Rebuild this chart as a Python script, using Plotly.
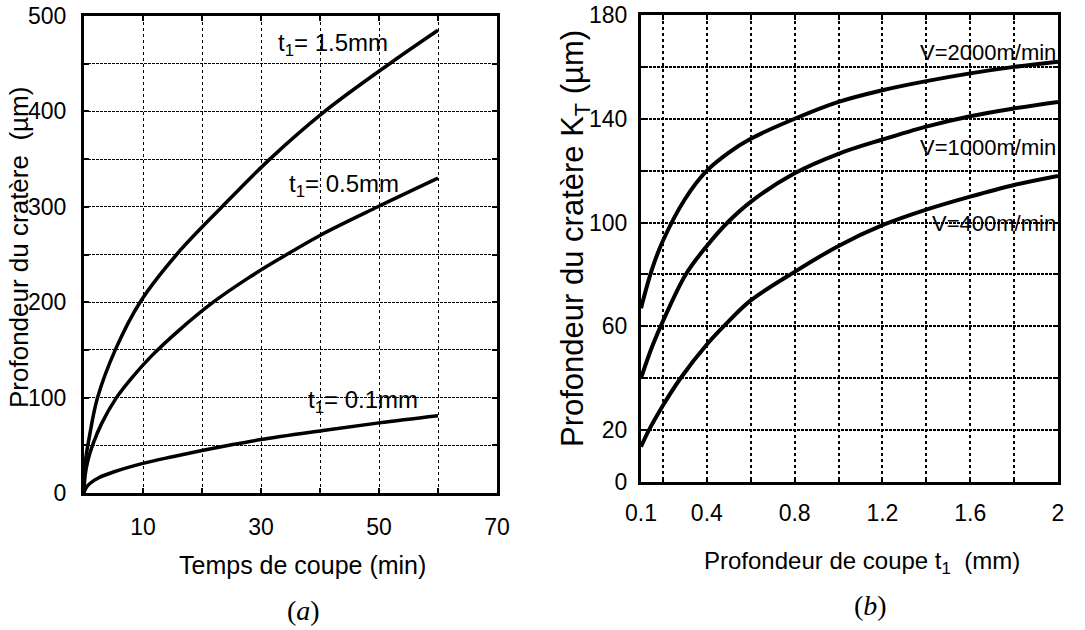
import plotly.graph_objects as go

# ---------------- data: panel (a) ----------------
t_15 = [0, 0.2, 1, 2.3, 5.3, 9.5, 15.7, 23.4, 31.5, 40.8, 51.8, 60]
k_15 = [0, 31, 62, 100, 150, 200, 250, 300, 350, 400, 450, 485]

t_05 = [0, 0.2, 0.7, 1.5, 3, 5.5, 8, 11.5, 16, 21.9, 28, 33, 40, 49.8, 60]
k_05 = [0, 19, 35, 51, 73, 100, 120, 144, 170, 200, 226, 245, 270, 300, 330]

t_01 = [0, 0.3, 1, 2.5, 5, 10, 15, 20, 25, 30, 40, 50, 60]
k_01 = [0, 5, 10, 16, 22, 31, 38, 44.5, 50.5, 56, 65, 73.5, 81]

a_xtickvals = [0, 10, 20, 30, 40, 50, 60, 70]
a_xticktext = ["", "10", "", "30", "", "50", "", "70"]
a_ytickvals = [0, 50, 100, 150, 200, 250, 300, 350, 400, 450, 500]
a_yticktext = ["0", "", "100", "", "200", "", "300", "", "400", "", "500"]

# ---------------- data: panel (b) ----------------
t1_2000 = [0.1, 0.15, 0.2, 0.3, 0.4, 0.5, 0.6, 0.8, 1.0, 1.2, 1.4, 1.6, 1.8, 2.0]
kt_2000 = [67, 82, 93, 109, 120, 127, 132.3, 140, 146.5, 151, 154.5, 157.5, 160, 162]

t1_1000 = [0.1, 0.15, 0.2, 0.304, 0.4, 0.5, 0.6, 0.8, 1.0, 1.2, 1.4, 1.6, 1.8, 2.0]
kt_1000 = [40, 52, 62, 80, 91, 100.5, 108, 119, 126.5, 132, 137, 141, 144, 146.5]

t1_400 = [0.1, 0.136, 0.2, 0.28, 0.4, 0.5, 0.6, 0.8, 1.0, 1.2, 1.4, 1.6, 1.8, 2.0]
kt_400 = [13.6, 20, 29.5, 40, 53, 62, 70, 81, 91, 99, 105, 110, 114.5, 118]

b_xtickvals = [0.1, 0.2, 0.4, 0.6, 0.8, 1.0, 1.2, 1.4, 1.6, 1.8, 2.0]
b_xticktext = ["0.1", "", "0.4", "", "0.8", "", "1.2", "", "1.6", "", "2"]
b_ytickvals = [0, 20, 40, 60, 80, 100, 120, 140, 160, 180]
b_yticktext = ["0", "20", "", "60", "", "100", "", "140", "", "180"]

labels_a = ["t<sub>1</sub>= 1.5mm", "t<sub>1</sub>= 0.5mm", "t<sub>1</sub>= 0.1mm"]
labels_b = ["V=2000m/min", "V=1000m/min", "V=400m/min"]

W, H = 1085, 630
SANS = "Liberation Sans, Arial, sans-serif"
SERIF = "Liberation Serif, DejaVu Serif, serif"

fig = go.Figure()

line_a = dict(color="black", width=3.5, shape="spline", smoothing=1)
for xs, ys in [(t_15, k_15), (t_05, k_05), (t_01, k_01)]:
    fig.add_trace(go.Scatter(x=xs, y=ys, mode="lines", line=line_a,
                             xaxis="x", yaxis="y", showlegend=False, hoverinfo="skip"))

line_b = dict(color="black", width=4, shape="spline", smoothing=1)
for xs, ys in [(t1_2000, kt_2000), (t1_1000, kt_1000), (t1_400, kt_400)]:
    fig.add_trace(go.Scatter(x=xs, y=ys, mode="lines", line=line_b,
                             xaxis="x2", yaxis="y2", showlegend=False, hoverinfo="skip"))


def px_x(p):
    return p / W


def px_y(p):
    return 1 - p / H


tickfont = dict(family=SANS, size=23, color="black")
common = dict(showline=True, linecolor="black", linewidth=3, mirror="ticks",
              ticks="inside", ticklen=5, tickwidth=2, tickcolor="black",
              showgrid=True, gridcolor="black", zeroline=False, automargin=False,
              tickfont=tickfont, tickmode="array", fixedrange=True)

fig.update_layout(
    width=W, height=H, autosize=False,
    margin=dict(l=0, r=0, t=0, b=0),
    paper_bgcolor="white", plot_bgcolor="white",
    xaxis=dict(domain=[px_x(84), px_x(497)], range=[0, 70], anchor="y",
               tickvals=a_xtickvals, ticktext=a_xticktext,
               gridwidth=1, griddash="dot", ticklabelstandoff=11, **common),
    yaxis=dict(domain=[px_y(493), px_y(16)], range=[0, 500], anchor="x",
               tickvals=a_ytickvals, ticktext=a_yticktext,
               gridwidth=1, griddash="3px,1px", ticklabelstandoff=10, **common),
    xaxis2=dict(domain=[px_x(641), px_x(1058)], range=[0.1, 2.0], anchor="y2",
                tickvals=b_xtickvals, ticktext=b_xticktext,
                gridwidth=2, griddash="dot", ticklabelstandoff=8, **common),
    yaxis2=dict(domain=[px_y(482), px_y(15)], range=[0, 180], anchor="x2",
                tickvals=b_ytickvals, ticktext=b_yticktext,
                gridwidth=2, griddash="3px,1px", ticklabelstandoff=6, **common),
)

ann = []
# curve labels, panel (a)
for txt, (x, y) in zip(labels_a, [(42.2, 470), (44, 322), (47.3, 96)]):
    ann.append(dict(text=txt, x=x, y=y, xref="x", yref="y", showarrow=False,
                    font=dict(family=SANS, size=24, color="black"),
                    xanchor="center", yanchor="middle"))
# curve labels, panel (b)
for txt, y in zip(labels_b, [165.5, 128.8, 99.8]):
    ann.append(dict(text=txt, x=2.0, y=y, xref="x2", yref="y2", showarrow=False,
                    font=dict(family=SANS, size=22, color="black"),
                    xanchor="right", yanchor="middle"))

ann += [
    dict(text="Temps de coupe (min)", x=px_x(302), y=px_y(565), xref="paper", yref="paper",
         showarrow=False, font=dict(family=SANS, size=25, color="black"),
         xanchor="center", yanchor="middle"),
    dict(text="Profondeur du cratère  (µm)", x=px_x(19), y=px_y(248), xref="paper", yref="paper",
         showarrow=False, font=dict(family=SANS, size=26, color="black"), textangle=-90,
         xanchor="center", yanchor="middle"),
    dict(text="Profondeur de coupe t<sub>1</sub>  (mm)", x=px_x(862), y=px_y(562),
         xref="paper", yref="paper", showarrow=False,
         font=dict(family=SANS, size=24, color="black"),
         xanchor="center", yanchor="middle"),
    dict(text="Profondeur du cratère K<sub>T</sub> (µm)", x=px_x(575), y=px_y(239),
         xref="paper", yref="paper", showarrow=False,
         font=dict(family=SANS, size=31, color="black"), textangle=-90,
         xanchor="center", yanchor="middle"),
    dict(text="(<i>a</i>)", x=px_x(303), y=px_y(610), xref="paper", yref="paper",
         showarrow=False, font=dict(family=SERIF, size=28, color="black"),
         xanchor="center", yanchor="middle"),
    dict(text="(<i>b</i>)", x=px_x(870), y=px_y(605), xref="paper", yref="paper",
         showarrow=False, font=dict(family=SERIF, size=28, color="black"),
         xanchor="center", yanchor="middle"),
]
fig.update_layout(annotations=ann)

# the browser's default 8px body margin would shift the fixed-size figure
fig.write_html("out.html", config={"displayModeBar": False},
               post_script="document.body.style.margin='0px';")
